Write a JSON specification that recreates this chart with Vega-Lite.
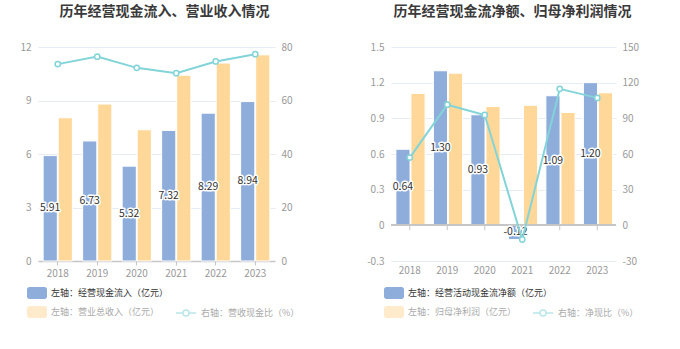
{
  "$schema": "https://vega.github.io/schema/vega-lite/v6.json",
  "background": "white",
  "padding": {"left": 0, "top": 5, "right": 0, "bottom": 0},
  "spacing": 46,
  "config": {
    "font": "Noto Sans CJK SC",
    "locale": {"number": {"decimal": ".", "thousands": ",", "grouping": [3], "currency": ["", ""], "minus": "-"}},
    "view": {"stroke": null},
    "axis": {"labelColor": "#999999", "labelFontSize": 10, "titleFontSize": 10, "gridColor": "#e6ebf4", "gridWidth": 1, "domainColor": "#c6c6c6", "tickColor": "#c6c6c6"},
    "title": {"fontSize": 14, "fontWeight": "bold", "color": "#3a3a3a", "anchor": "middle", "frame": "group", "offset": 23}
  },
  "hconcat": [
    {
      "width": 237,
      "height": 214,
      "title": {"text": "历年经营现金流入、营业收入情况", "dx": 8},
      "data": {"values": [
        {"year": "2018", "inflow": 5.91, "revenue": 8.03, "ratio": 73.6},
        {"year": "2019", "inflow": 6.73, "revenue": 8.8, "ratio": 76.4},
        {"year": "2020", "inflow": 5.32, "revenue": 7.36, "ratio": 72.2},
        {"year": "2021", "inflow": 7.32, "revenue": 10.42, "ratio": 70.2},
        {"year": "2022", "inflow": 8.29, "revenue": 11.1, "ratio": 74.6},
        {"year": "2023", "inflow": 8.94, "revenue": 11.56, "ratio": 77.3}
      ]},
      "layer": [
        {
          "mark": {"type": "bar", "stroke": "white", "strokeWidth": 1},
          "encoding": {
            "x": {"field": "year", "type": "nominal", "title": null, "scale": {"paddingInner": 0.26, "paddingOuter": 0.13},
                  "axis": {"labelAngle": 0, "labelPadding": 3, "tickSize": 4, "domainWidth": 1.5, "labelFontSize": 10}},
            "xOffset": {"datum": "a", "scale": {"domain": ["a", "b"], "paddingInner": 0.06}},
            "y": {"field": "inflow", "type": "quantitative", "title": null, "scale": {"domain": [0, 12], "nice": false},
                  "axis": {"values": [0, 3, 6, 9, 12], "ticks": false, "domain": false, "labelPadding": 7, "minExtent": 38, "maxExtent": 38}},
            "color": {"datum": "左轴：经营现金流入（亿元）", "scale": {"range": ["#8eaddb"]},
                      "legend": {"title": null, "orient": "none", "legendX": -11, "legendY": 236, "padding": 0,
                                 "symbolType": "M-0.75,-0.6 H0.75 A0.25,0.25 0 0 1 1,-0.35 V0.35 A0.25,0.25 0 0 1 0.75,0.6 H-0.75 A0.25,0.25 0 0 1 -1,0.35 V-0.35 A0.25,0.25 0 0 1 -0.75,-0.6 Z",
                                 "symbolSize": 400, "symbolStrokeWidth": 0, "labelFontSize": 9, "labelColor": "#333333", "labelOffset": 4}}
          }
        },
        {
          "mark": {"type": "bar", "stroke": "white", "strokeWidth": 1},
          "encoding": {
            "x": {"field": "year", "type": "nominal"},
            "xOffset": {"datum": "b"},
            "y": {"field": "revenue", "type": "quantitative", "scale": {"domain": [0, 12], "nice": false}, "axis": null},
            "color": {"datum": "左轴：营业总收入（亿元）", "scale": {"range": ["#ffd899"]},
                      "legend": {"title": null, "orient": "none", "legendX": -11, "legendY": 255, "padding": 0,
                                 "symbolType": "M-0.75,-0.6 H0.75 A0.25,0.25 0 0 1 1,-0.35 V0.35 A0.25,0.25 0 0 1 0.75,0.6 H-0.75 A0.25,0.25 0 0 1 -1,0.35 V-0.35 A0.25,0.25 0 0 1 -0.75,-0.6 Z",
                                 "symbolSize": 400, "symbolStrokeWidth": 0, "symbolOpacity": 0.5, "labelFontSize": 9, "labelColor": "#aaaaaa", "labelOffset": 4}}
          }
        },
        {
          "mark": {"type": "text", "stroke": "white", "strokeWidth": 3, "strokeJoin": "round", "fontSize": 10.5},
          "encoding": {
            "x": {"field": "year", "type": "nominal"},
            "xOffset": {"datum": "a"},
            "y": {"field": "inflow", "type": "quantitative", "scale": {"domain": [0, 24], "nice": false}, "axis": null},
            "text": {"field": "inflow", "type": "quantitative", "format": ".2f"}
          }
        },
        {
          "mark": {"type": "text", "fill": "#333333", "fontSize": 10.5},
          "encoding": {
            "x": {"field": "year", "type": "nominal"},
            "xOffset": {"datum": "a"},
            "y": {"field": "inflow", "type": "quantitative", "scale": {"domain": [0, 24], "nice": false}, "axis": null},
            "text": {"field": "inflow", "type": "quantitative", "format": ".2f"}
          }
        },
        {
          "mark": {"type": "line", "strokeWidth": 2, "point": {"filled": false, "fill": "white", "size": 28, "strokeWidth": 1.5}},
          "encoding": {
            "x": {"field": "year", "type": "nominal"},
            "y": {"field": "ratio", "type": "quantitative", "scale": {"domain": [0, 80], "nice": false},
                  "axis": {"orient": "right", "title": null, "values": [0, 20, 40, 60, 80], "ticks": false, "domain": false, "grid": false, "labelPadding": 6, "minExtent": 30, "maxExtent": 30}},
            "color": {"datum": "右轴：营收现金比（%）", "scale": {"range": ["#82d4d8"]},
                      "legend": {"title": null, "orient": "none", "legendX": 137, "legendY": 255, "padding": 0,
                                 "symbolType": "M-1,0 H-0.3 M0.3,0 H1 M0.3,0 A0.3,0.3 0 1 1 -0.3,0 A0.3,0.3 0 1 1 0.3,0",
                                 "symbolSize": 400, "symbolStrokeWidth": 1.5, "symbolFillColor": "white", "symbolOpacity": 0.55, "labelFontSize": 9, "labelColor": "#aaaaaa", "labelOffset": 4}}
          }
        }
      ],
      "resolve": {"scale": {"y": "independent", "color": "independent"}}
    },
    {
      "width": 225,
      "height": 214,
      "title": {"text": "历年经营现金流净额、归母净利润情况", "dx": 9},
      "data": {"values": [
        {"year": "2018", "netcf": 0.64, "profit": 1.11, "ratio": 57.0},
        {"year": "2019", "netcf": 1.30, "profit": 1.28, "ratio": 101.5},
        {"year": "2020", "netcf": 0.93, "profit": 1.00, "ratio": 92.8},
        {"year": "2021", "netcf": -0.12, "profit": 1.01, "ratio": -11.9},
        {"year": "2022", "netcf": 1.09, "profit": 0.95, "ratio": 114.8},
        {"year": "2023", "netcf": 1.20, "profit": 1.115, "ratio": 107.2}
      ]},
      "layer": [
        {
          "mark": {"type": "bar", "stroke": "white", "strokeWidth": 1},
          "encoding": {
            "x": {"field": "year", "type": "nominal", "title": null, "scale": {"paddingInner": 0.26, "paddingOuter": 0.13},
                  "axis": {"labelAngle": 0, "labelPadding": 4, "ticks": false, "domain": false, "labelFontSize": 10}},
            "xOffset": {"datum": "a", "scale": {"domain": ["a", "b"], "paddingInner": 0.06}},
            "y": {"field": "netcf", "type": "quantitative", "title": null, "scale": {"domain": [-0.3, 1.5], "nice": false, "zero": false},
                  "axis": {"values": [-0.3, 0, 0.3, 0.6, 0.9, 1.2, 1.5], "labelExpr": "datum.value == 0 ? '0' : replace(format(datum.value, '.1f'), '\u2212', '-')", "ticks": false, "domain": false, "labelPadding": 7, "minExtent": 40, "maxExtent": 40}},
            "color": {"datum": "左轴：经营活动现金流净额（亿元）", "scale": {"range": ["#8eaddb"]},
                      "legend": {"title": null, "orient": "none", "legendX": -7, "legendY": 236, "padding": 0,
                                 "symbolType": "M-0.75,-0.6 H0.75 A0.25,0.25 0 0 1 1,-0.35 V0.35 A0.25,0.25 0 0 1 0.75,0.6 H-0.75 A0.25,0.25 0 0 1 -1,0.35 V-0.35 A0.25,0.25 0 0 1 -0.75,-0.6 Z",
                                 "symbolSize": 400, "symbolStrokeWidth": 0, "labelFontSize": 9, "labelColor": "#333333", "labelOffset": 4}}
          }
        },
        {
          "mark": {"type": "bar", "stroke": "white", "strokeWidth": 1},
          "encoding": {
            "x": {"field": "year", "type": "nominal"},
            "xOffset": {"datum": "b"},
            "y": {"field": "profit", "type": "quantitative", "scale": {"domain": [-0.3, 1.5], "nice": false, "zero": false}, "axis": null},
            "color": {"datum": "左轴：归母净利润（亿元）", "scale": {"range": ["#ffd899"]},
                      "legend": {"title": null, "orient": "none", "legendX": -7, "legendY": 255, "padding": 0,
                                 "symbolType": "M-0.75,-0.6 H0.75 A0.25,0.25 0 0 1 1,-0.35 V0.35 A0.25,0.25 0 0 1 0.75,0.6 H-0.75 A0.25,0.25 0 0 1 -1,0.35 V-0.35 A0.25,0.25 0 0 1 -0.75,-0.6 Z",
                                 "symbolSize": 400, "symbolStrokeWidth": 0, "symbolOpacity": 0.5, "labelFontSize": 9, "labelColor": "#aaaaaa", "labelOffset": 4}}
          }
        },
        {
          "mark": {"type": "rule", "color": "#c6c6c6", "strokeWidth": 1.5},
          "encoding": {
            "y": {"datum": 0, "type": "quantitative", "scale": {"domain": [-0.3, 1.5], "nice": false, "zero": false}, "axis": null}
          }
        },
        {
          "mark": {"type": "rule", "color": "#c6c6c6", "strokeWidth": 1, "y2Offset": 5},
          "encoding": {
            "x": {"field": "year", "type": "nominal"},
            "y": {"datum": 0, "type": "quantitative", "scale": {"domain": [-0.3, 1.5], "nice": false, "zero": false}, "axis": null},
            "y2": {"datum": 0}
          }
        },
        {
          "mark": {"type": "text", "stroke": "white", "strokeWidth": 3, "strokeJoin": "round", "fontSize": 10.5},
          "encoding": {
            "x": {"field": "year", "type": "nominal"},
            "xOffset": {"datum": "a"},
            "y": {"field": "netcf", "type": "quantitative", "scale": {"domain": [-0.6, 3.0], "nice": false, "zero": false}, "axis": null},
            "text": {"field": "netcf", "type": "quantitative", "format": ".2f"}
          }
        },
        {
          "mark": {"type": "text", "fill": "#333333", "fontSize": 10.5},
          "encoding": {
            "x": {"field": "year", "type": "nominal"},
            "xOffset": {"datum": "a"},
            "y": {"field": "netcf", "type": "quantitative", "scale": {"domain": [-0.6, 3.0], "nice": false, "zero": false}, "axis": null},
            "text": {"field": "netcf", "type": "quantitative", "format": ".2f"}
          }
        },
        {
          "mark": {"type": "line", "strokeWidth": 2, "point": {"filled": false, "fill": "white", "size": 28, "strokeWidth": 1.5}},
          "encoding": {
            "x": {"field": "year", "type": "nominal"},
            "y": {"field": "ratio", "type": "quantitative", "scale": {"domain": [-30, 150], "nice": false, "zero": false},
                  "axis": {"orient": "right", "title": null, "values": [-30, 0, 30, 60, 90, 120, 150], "labelExpr": "replace(format(datum.value, 'd'), '\u2212', '-')", "ticks": false, "domain": false, "grid": false, "labelPadding": 6, "minExtent": 30, "maxExtent": 30}},
            "color": {"datum": "右轴：净现比（%）", "scale": {"range": ["#82d4d8"]},
                      "legend": {"title": null, "orient": "none", "legendX": 141, "legendY": 255, "padding": 0,
                                 "symbolType": "M-1,0 H-0.3 M0.3,0 H1 M0.3,0 A0.3,0.3 0 1 1 -0.3,0 A0.3,0.3 0 1 1 0.3,0",
                                 "symbolSize": 400, "symbolStrokeWidth": 1.5, "symbolFillColor": "white", "symbolOpacity": 0.55, "labelFontSize": 9, "labelColor": "#aaaaaa", "labelOffset": 4}}
          }
        }
      ],
      "resolve": {"scale": {"y": "independent", "color": "independent"}}
    }
  ]
}
